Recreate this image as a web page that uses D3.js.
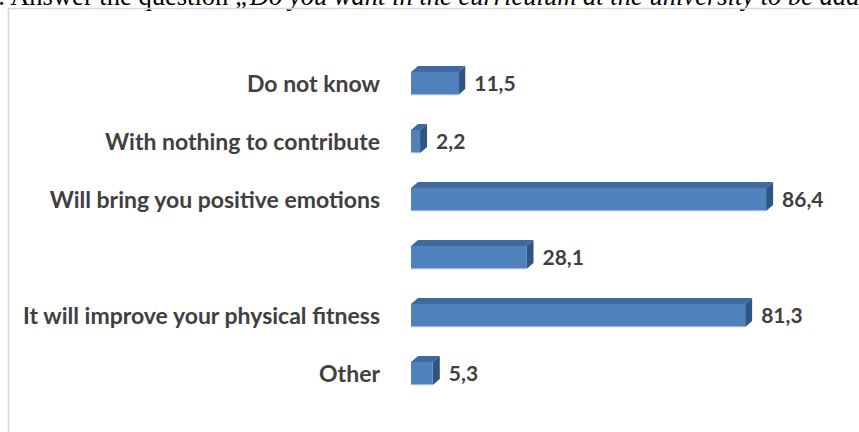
<!DOCTYPE html>
<html>
<head>
<meta charset="utf-8">
<script src="https://cdn.jsdelivr.net/npm/d3@7"></script>
<style>
  html, body { margin: 0; padding: 0; background: #fff; }
  svg { display: block; }
</style>
</head>
<body>
<svg id="chart" width="859" height="432"></svg>
<script>
// Survey answers, top to bottom
const categories = [
  "Do not know",
  "With nothing to contribute",
  "Will bring you positive emotions",
  "",
  "It will improve your physical fitness",
  "Other"
];
const values = [11.5, 2.2, 86.4, 28.1, 81.3, 5.3];
const keys = categories.map((c, i) => "row" + i);

const svg = d3.select("#chart");
const W = 859, H = 432;
const serif = "'Liberation Serif', 'Times New Roman', serif";

// Heading line, running past the top and right edges
function headingText(sel, size, lead, rest) {
  const t = sel.append("text")
    .attr("font-family", serif)
    .attr("font-size", size)
    .attr("fill", "#000");
  t.append("tspan").text(lead);
  t.append("tspan").attr("font-style", "italic").text(rest);
  return t;
}
// size the heading so "Answer … add" spans the frame width
const probe = headingText(svg, 20, "Answer the question ", "„Do you want in the curriculum at the university to be add");
const probeW = probe.node().getComputedTextLength();
probe.remove();
const headSize = 20 * 850 / probeW;
const pre = svg.append("text").attr("font-family", serif).attr("font-size", headSize).text("5. ");
const preW = pre.node().getComputedTextLength();
pre.remove();

headingText(svg, headSize, "5. Answer the question ",
  "„Do you want in the curriculum at the university to be added physical education and sport?”")
  .attr("x", 5 - preW)
  .attr("y", 5);

// Chart frame
svg.append("rect")
  .attr("x", 8.5).attr("y", 8.5)
  .attr("width", W).attr("height", H)
  .attr("fill", "none")
  .attr("stroke", "#d9d9d9")
  .attr("stroke-width", 1.5);

// Scales
const x = d3.scaleLinear().domain([0, 100]).range([411, 822]);
const y = d3.scaleBand().domain(keys).range([54.5, 402.5])
  .paddingInner(0.6).paddingOuter(0.3);

const depthX = 7, depthY = 6;
const fmt = d3.formatLocale({ decimal: ",", thousands: " ", grouping: [3], currency: ["", ""] }).format(".1f");

const data = keys.map((k, i) => ({ key: k, label: categories[i], value: values[i] }));

const bars = svg.append("g").selectAll("g").data(data).join("g");

// top face
bars.append("path")
  .attr("fill", "#3f6a9f")
  .attr("d", d => {
    const x0 = x(0), x1 = x(d.value), y0 = y(d.key);
    return `M${x0},${y0}L${x0 + depthX},${y0 - depthY}L${x1 + depthX},${y0 - depthY}L${x1},${y0}Z`;
  });
// side face
bars.append("path")
  .attr("fill", "#2f5585")
  .attr("d", d => {
    const x1 = x(d.value), y0 = y(d.key), y1 = y0 + y.bandwidth();
    return `M${x1},${y0}L${x1 + depthX},${y0 - depthY}L${x1 + depthX},${y1 - depthY}L${x1},${y1}Z`;
  });
// front face
bars.append("rect")
  .attr("fill", "#4f81bd")
  .attr("x", x(0))
  .attr("y", d => y(d.key))
  .attr("width", d => x(d.value) - x(0))
  .attr("height", y.bandwidth());
// light lower edge
bars.append("line")
  .attr("stroke", "#a9c2e2")
  .attr("stroke-width", 1)
  .attr("x1", x(0))
  .attr("x2", d => x(d.value))
  .attr("y1", d => y(d.key) + y.bandwidth() - 0.5)
  .attr("y2", d => y(d.key) + y.bandwidth() - 0.5);

// value labels
bars.append("text")
  .attr("x", d => x(d.value) + depthX + 9)
  .attr("y", d => y(d.key) + y.bandwidth() / 2)
  .attr("dy", "0.35em")
  .attr("font-family", "Lato, 'Open Sans', sans-serif")
  .attr("font-weight", "bold")
  .attr("font-size", 21)
  .attr("fill", "#404040")
  .text(d => fmt(d.value));

// category labels
bars.append("text")
  .attr("x", 380)
  .attr("y", d => y(d.key) + y.bandwidth() / 2)
  .attr("dy", "0.35em")
  .attr("text-anchor", "end")
  .attr("font-family", "Lato, 'Open Sans', sans-serif")
  .attr("font-weight", "bold")
  .attr("font-size", 23)
  .attr("fill", "#404040")
  .text(d => d.label);
</script>
</body>
</html>
